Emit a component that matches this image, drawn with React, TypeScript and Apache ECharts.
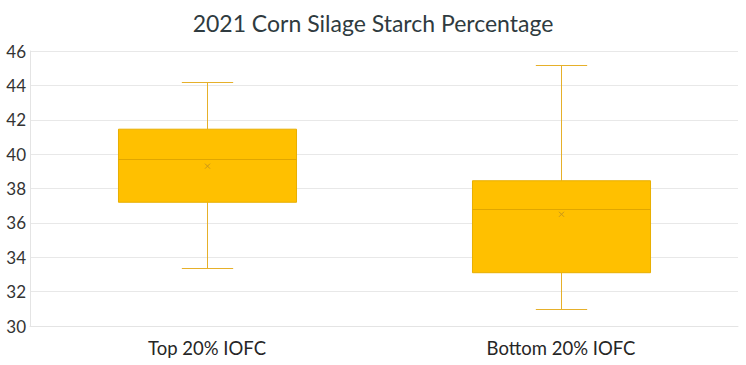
import React, { useEffect, useRef } from "react";
import * as echarts from "echarts";

const titleText = "2021 Corn Silage Starch Percentage";
const categories = ["Top 20% IOFC", "Bottom 20% IOFC"];
const minValues = [33.4, 31.0];
const q1Values = [37.2, 33.1];
const medianValues = [39.7, 36.8];
const q3Values = [41.45, 38.45];
const maxValues = [44.2, 45.2];
const meanValues = [39.3, 36.5];
const yTicks = { min: 30, max: 46, interval: 2 };

const FONT = "Lato, 'Open Sans', sans-serif";

export default function App() {
  const ref = useRef<HTMLDivElement>(null);
  useEffect(() => {
    if (!ref.current) return;
    const chart = echarts.init(ref.current, null, { renderer: "svg" });
    const data = categories.map((_, i) => [
      i,
      minValues[i],
      q1Values[i],
      medianValues[i],
      q3Values[i],
      maxValues[i],
      meanValues[i],
    ]);
    const renderItem = (params: any, api: any) => {
      const idx = api.value(0);
      const cx = Math.round(api.coord([idx, 0])[0]) + 0.5;
      const band = api.size([1, 0])[0];
      const boxW = band * 0.503;
      const capW = band * 0.145;
      const y = (k: number) => api.coord([idx, api.value(k)])[1];
      const yMin = Math.round(y(1)) + 0.5;
      const yQ1 = y(2);
      const yMed = Math.round(y(3)) + 0.5;
      const yQ3 = y(4);
      const yMax = Math.round(y(5)) + 0.5;
      const yMean = y(6);
      const wColor = "#E6B02A";
      const lineStyle = { stroke: wColor, lineWidth: 1 };
      const m = 2.5;
      return {
        type: "group",
        children: [
          { type: "line", shape: { x1: cx, y1: yMax, x2: cx, y2: yQ3 }, style: lineStyle },
          { type: "line", shape: { x1: cx, y1: yQ1, x2: cx, y2: yMin }, style: lineStyle },
          { type: "line", shape: { x1: cx - capW / 2, y1: yMax, x2: cx + capW / 2, y2: yMax }, style: lineStyle },
          { type: "line", shape: { x1: cx - capW / 2, y1: yMin, x2: cx + capW / 2, y2: yMin }, style: lineStyle },
          {
            type: "rect",
            shape: { x: cx - boxW / 2, y: yQ3, width: boxW, height: yQ1 - yQ3 },
            style: { fill: "#FFC000", stroke: "#E8AE00", lineWidth: 1 },
          },
          { type: "line", shape: { x1: cx - boxW / 2, y1: yMed, x2: cx + boxW / 2, y2: yMed }, style: { stroke: "#E0A600", lineWidth: 1 } },
          { type: "line", shape: { x1: cx - m, y1: yMean - m, x2: cx + m, y2: yMean + m }, style: { stroke: "#C8961A", lineWidth: 1 } },
          { type: "line", shape: { x1: cx - m, y1: yMean + m, x2: cx + m, y2: yMean - m }, style: { stroke: "#C8961A", lineWidth: 1 } },
        ],
      };
    };
    chart.setOption({
      animation: false,
      backgroundColor: "#ffffff",
      title: {
        text: titleText,
        left: "center",
        top: 6,
        textStyle: { fontFamily: FONT, fontSize: 23, fontWeight: "normal", color: "#2f3b40" },
      },
      grid: { left: 30, right: 8, top: 51, bottom: 39 },
      xAxis: {
        type: "category",
        data: categories,
        axisLine: { show: true, lineStyle: { color: "#e4e4e4" } },
        axisTick: { show: false },
        axisLabel: { fontFamily: FONT, fontSize: 18.5, color: "#262626", margin: 12 },
        splitLine: { show: false },
      },
      yAxis: {
        type: "value",
        min: yTicks.min,
        max: yTicks.max,
        interval: yTicks.interval,
        axisLine: { show: true, lineStyle: { color: "#e4e4e4" } },
        axisTick: { show: false },
        axisLabel: { fontFamily: FONT, fontSize: 17, color: "#333333", margin: 4 },
        splitLine: { show: true, lineStyle: { color: "#e8e8e8" } },
      },
      series: [
        {
          type: "custom",
          renderItem,
          data,
          encode: { x: 0, y: [1, 2, 3, 4, 5, 6] },
        },
      ],
    });
    return () => chart.dispose();
  }, []);
  return (
    <div
      ref={ref}
      style={{ position: "fixed", left: 0, top: 0, width: 746, height: 365 }}
    />
  );
}
